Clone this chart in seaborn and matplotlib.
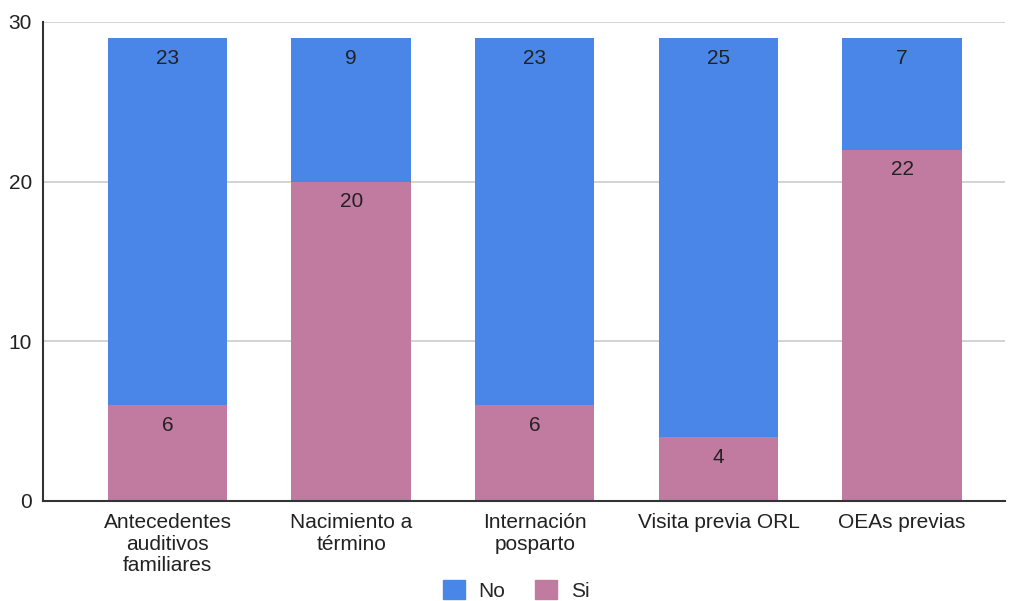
import pandas as pd
import seaborn as sns
import matplotlib.pyplot as plt
from matplotlib.patches import Patch

# datos
categorias = ['Antecedentes\nauditivos\nfamiliares', 'Nacimiento a\ntérmino',
              'Internación\nposparto', 'Visita previa ORL', 'OEAs previas']
si = [6, 20, 6, 4, 22]
no = [23, 9, 23, 25, 7]

color_no = '#4a86e8'
color_si = '#c27ba0'

sns.set_theme(style='white')
plt.rcParams['font.family'] = ['Liberation Sans', 'DejaVu Sans']

df = pd.DataFrame({'cat': categorias, 'si': si, 'no': no})
df['total'] = df['si'] + df['no']

fig = plt.figure(figsize=(10.12, 6.01), dpi=100)
ax = fig.add_axes([0.0425, 0.1664, 0.9505, 0.797])

sns.barplot(data=df, x='cat', y='total', color=color_no, width=0.65,
            saturation=1, ax=ax, zorder=2, linewidth=0)
sns.barplot(data=df, x='cat', y='si', color=color_si, width=0.65,
            saturation=1, ax=ax, zorder=3, linewidth=0)

for i, (s, n) in enumerate(zip(si, no)):
    ax.text(i, s + n - 1.3, str(n), ha='center', va='center', fontsize=15,
            color='#222222', zorder=4)
    ax.text(i, s - 1.25, str(s), ha='center', va='center', fontsize=15,
            color='#222222', zorder=4)

ax.set_ylim(0, 30)
ax.set_xlim(-0.678, 4.56)
ax.set_yticks([0, 10, 20, 30])
ax.yaxis.grid(True, color='#cccccc', linewidth=1.2, zorder=0)
ax.set_axisbelow(True)
ax.set_xlabel('')
ax.set_ylabel('')
ax.tick_params(axis='y', labelsize=15, length=0, pad=8, labelcolor='#222222')
ax.tick_params(axis='x', labelsize=15, length=0, pad=9, labelcolor='#222222')
for lbl in ax.get_xticklabels():
    lbl.set_linespacing(1.15)
for side in ['top', 'right']:
    ax.spines[side].set_visible(False)
for side in ['left', 'bottom']:
    ax.spines[side].set_color('#333333')
    ax.spines[side].set_linewidth(1.5)
    ax.spines[side].set_zorder(5)

handles = [Patch(color=color_no, label='No'), Patch(color=color_si, label='Si')]
fig.legend(handles=handles, loc='center', bbox_to_anchor=(0.51, 0.018), ncol=2,
           frameon=False, fontsize=15, handlelength=1.05, handleheight=1.05,
           columnspacing=1.45, handletextpad=0.65)

fig.savefig('out.png', dpi=100)
